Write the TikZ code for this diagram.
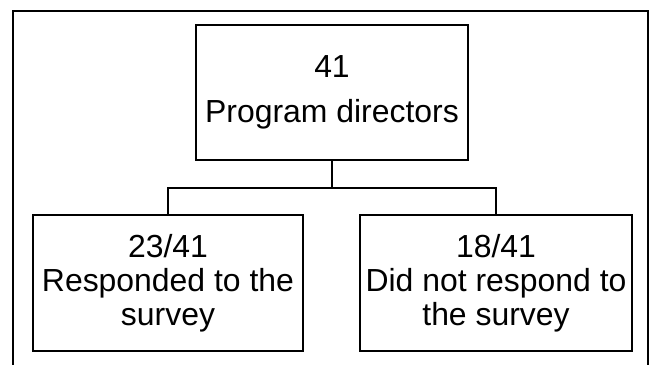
\documentclass[tikz,border=0pt]{standalone}
\usepackage{fontspec}
\setmainfont{Liberation Sans}
\usetikzlibrary{calc}

\begin{document}
\begin{tikzpicture}[x=0.025cm, y=-0.025cm,
  stage/.style={draw=black, line width=1.7pt, align=center, inner sep=0pt,
    font=\fontsize{22.7}{24}\selectfont},
  link/.style={black, line width=1.7pt}]
\useasboundingbox (0,0) rectangle (650,364);
\draw[link] (13,366) -- (13,11) -- (648,11) -- (648,366);
\node[stage, minimum width=6.8cm, minimum height=3.375cm] (directors) at (332,92.5)
  {41\\[8pt]Program directors};
\node[stage, minimum width=6.75cm, minimum height=3.4cm] (responded) at (168,283)
  {23/41\\Responded to the\\survey};
\node[stage, minimum width=6.8cm, minimum height=3.4cm] (norespond) at (496,283)
  {18/41\\Did not respond to\\the survey};
\coordinate (split) at (332,188);
\draw[link] (directors.south) -- (split);
\draw[link] (responded.north) |- (split) -| (norespond.north);
\end{tikzpicture}
\end{document}
